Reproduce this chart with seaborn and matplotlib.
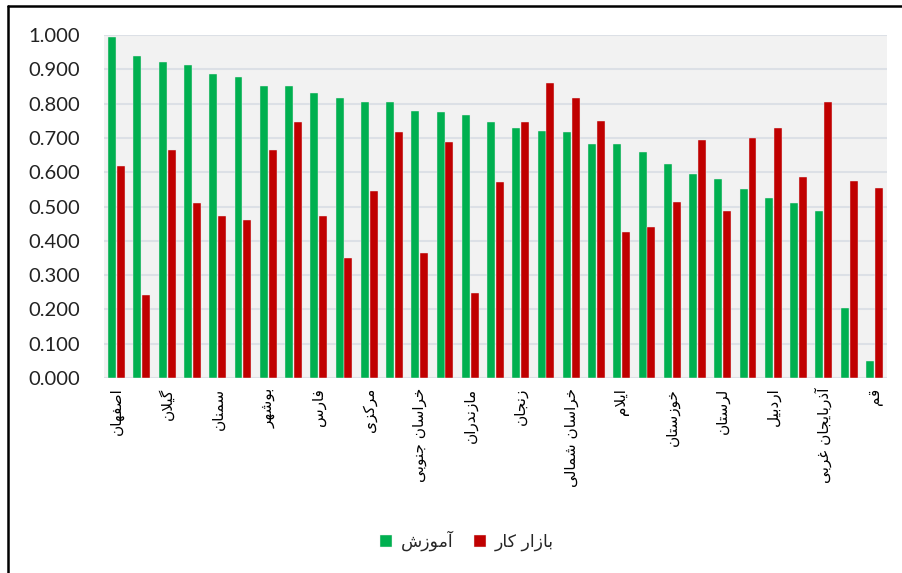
import matplotlib
matplotlib.use("Agg")
import matplotlib.pyplot as plt
from matplotlib.lines import Line2D
import seaborn as sns
import pandas as pd

# ---------------- data ----------------
provinces = [
    "اصفهان", "تهران", "گیلان", "یزد", "سمنان", "البرز", "بوشهر", "قزوین",
    "فارس", "کرمان", "مرکزی", "همدان", "خراسان جنوبی", "کرمانشاه", "مازندران",
    "آذربایجان شرقی", "زنجان", "خراسان رضوی", "خراسان شمالی", "گلستان", "ایلام",
    "کهگیلویه و بویراحمد", "خوزستان", "چهارمحال و بختیاری", "لرستان", "کردستان",
    "اردبیل", "هرمزگان", "آذربایجان غربی", "سیستان و بلوچستان", "قم",
]
education = [0.994, 0.938, 0.922, 0.913, 0.885, 0.878, 0.851, 0.851, 0.830, 0.815,
             0.806, 0.804, 0.777, 0.775, 0.767, 0.745, 0.730, 0.720, 0.718, 0.683,
             0.682, 0.658, 0.624, 0.595, 0.579, 0.550, 0.526, 0.509, 0.487, 0.204,
             0.051]
labour = [0.618, 0.241, 0.665, 0.510, 0.472, 0.462, 0.664, 0.747, 0.472, 0.349,
          0.545, 0.718, 0.363, 0.689, 0.249, 0.571, 0.745, 0.860, 0.815, 0.750,
          0.426, 0.441, 0.513, 0.695, 0.488, 0.701, 0.729, 0.587, 0.805, 0.574,
          0.553]
series_names = ["آموزش", "بازار کار"]
yticks = [0.0, 0.1, 0.2, 0.3, 0.4, 0.5, 0.6, 0.7, 0.8, 0.9, 1.0]

# ---------------- Persian shaping (matplotlib has no complex text layout) ----------------
FORMS = {  # isolated, final, initial, medial
    "ا": ("\uFE8D", "\uFE8E", None, None), "آ": ("\uFE81", "\uFE82", None, None),
    "ب": ("\uFE8F", "\uFE90", "\uFE91", "\uFE92"), "پ": ("\uFB56", "\uFB57", "\uFB58", "\uFB59"),
    "ت": ("\uFE95", "\uFE96", "\uFE97", "\uFE98"), "ث": ("\uFE99", "\uFE9A", "\uFE9B", "\uFE9C"),
    "ج": ("\uFE9D", "\uFE9E", "\uFE9F", "\uFEA0"), "چ": ("\uFB7A", "\uFB7B", "\uFB7C", "\uFB7D"),
    "ح": ("\uFEA1", "\uFEA2", "\uFEA3", "\uFEA4"), "خ": ("\uFEA5", "\uFEA6", "\uFEA7", "\uFEA8"),
    "د": ("\uFEA9", "\uFEAA", None, None), "ذ": ("\uFEAB", "\uFEAC", None, None),
    "ر": ("\uFEAD", "\uFEAE", None, None), "ز": ("\uFEAF", "\uFEB0", None, None),
    "ژ": ("\uFB8A", "\uFB8B", None, None),
    "س": ("\uFEB1", "\uFEB2", "\uFEB3", "\uFEB4"), "ش": ("\uFEB5", "\uFEB6", "\uFEB7", "\uFEB8"),
    "ص": ("\uFEB9", "\uFEBA", "\uFEBB", "\uFEBC"), "ض": ("\uFEBD", "\uFEBE", "\uFEBF", "\uFEC0"),
    "ط": ("\uFEC1", "\uFEC2", "\uFEC3", "\uFEC4"), "ظ": ("\uFEC5", "\uFEC6", "\uFEC7", "\uFEC8"),
    "ع": ("\uFEC9", "\uFECA", "\uFECB", "\uFECC"), "غ": ("\uFECD", "\uFECE", "\uFECF", "\uFED0"),
    "ف": ("\uFED1", "\uFED2", "\uFED3", "\uFED4"), "ق": ("\uFED5", "\uFED6", "\uFED7", "\uFED8"),
    "ک": ("\uFB8E", "\uFB8F", "\uFB90", "\uFB91"), "گ": ("\uFB92", "\uFB93", "\uFB94", "\uFB95"),
    "ل": ("\uFEDD", "\uFEDE", "\uFEDF", "\uFEE0"), "م": ("\uFEE1", "\uFEE2", "\uFEE3", "\uFEE4"),
    "ن": ("\uFEE5", "\uFEE6", "\uFEE7", "\uFEE8"), "ه": ("\uFEE9", "\uFEEA", "\uFEEB", "\uFEEC"),
    "و": ("\uFEED", "\uFEEE", None, None),
    "ی": ("\uFBFC", "\uFBFD", "\uFBFE", "\uFBFF"),
}


def joins_next(ch):
    return ch in FORMS and FORMS[ch][2] is not None


def shape(text):
    chars = list(text)
    out = []
    i = 0
    n = len(chars)
    while i < n:
        c = chars[i]
        prev = chars[i - 1] if i > 0 else None
        connect_prev = prev is not None and joins_next(prev)
        if c == "ل" and i + 1 < n and chars[i + 1] in ("ا", "آ"):
            if chars[i + 1] == "ا":
                out.append("\uFEFC" if connect_prev else "\uFEFB")
            else:
                out.append("\uFEF6" if connect_prev else "\uFEF5")
            i += 2
            continue
        if c not in FORMS:
            out.append(c)
            i += 1
            continue
        nxt = chars[i + 1] if i + 1 < n else None
        connect_next = joins_next(c) and nxt is not None and nxt in FORMS
        iso, fin, ini, med = FORMS[c]
        if connect_prev and connect_next:
            out.append(med)
        elif connect_prev:
            out.append(fin)
        elif connect_next:
            out.append(ini)
        else:
            out.append(iso)
        i += 1
    return "".join(reversed(out))


# ---------------- figure ----------------
sns.set_theme(style="white")
plt.rcParams["font.family"] = ["DejaVu Sans"]

df = pd.DataFrame({
    "province": provinces * 2,
    "value": education + labour,
    "series": [series_names[0]] * len(provinces) + [series_names[1]] * len(provinces),
})

fig = plt.figure(figsize=(9.03, 5.73), dpi=100)
ax = fig.add_axes([104 / 903, 1 - 378 / 573, 783 / 903, 343 / 573])
ax.set_facecolor("#F2F2F2")

sns.barplot(data=df, x="province", y="value", hue="series",
            palette=["#00B050", "#C00000"], saturation=1, width=0.7, gap=0.1,
            edgecolor="#EDEDED", linewidth=0.3, ax=ax, legend=True)

ax.set_ylim(0, 1.0)
ax.set_xlim(-0.5, len(provinces) - 0.5)
ax.set_yticks(yticks)
ax.set_yticklabels([f"{v:.3f}" for v in yticks], fontsize=14.5,
                   family=["Lato", "DejaVu Sans"], color="#222222")
ax.yaxis.grid(True, color="#DCE0E6", linewidth=1.5)
ax.set_axisbelow(True)
ax.tick_params(axis="both", length=0)
ax.tick_params(axis="y", pad=17)
ax.tick_params(axis="x", pad=7)

xt_labels = [shape(p) if i % 2 == 0 else "" for i, p in enumerate(provinces)]
ax.set_xticks(range(len(provinces)))
ax.set_xticklabels(xt_labels, rotation=90, fontsize=11, color="black", va="top", ha="center")
ax.set_xlabel("")
ax.set_ylabel("")
for s in ax.spines.values():
    s.set_visible(False)

handles, _ = ax.get_legend_handles_labels()
ax.legend(handles, [shape(s) for s in series_names], loc="center",
          bbox_to_anchor=(467 / 903, 1 - 541 / 573), bbox_transform=fig.transFigure,
          ncol=2, frameon=False, fontsize=12.5, handlelength=0.7, handleheight=0.7,
          handletextpad=0.5, columnspacing=1.2)

# outer frame (left and top edges visible in the reference)
fig.add_artist(Line2D([8 / 903, 8 / 903], [0, 1 - 6 / 573], transform=fig.transFigure,
                      color="black", linewidth=1.8))
fig.add_artist(Line2D([8 / 903, 1], [1 - 6 / 573, 1 - 6 / 573], transform=fig.transFigure,
                      color="black", linewidth=1.8))

fig.savefig("out.png", dpi=100)
